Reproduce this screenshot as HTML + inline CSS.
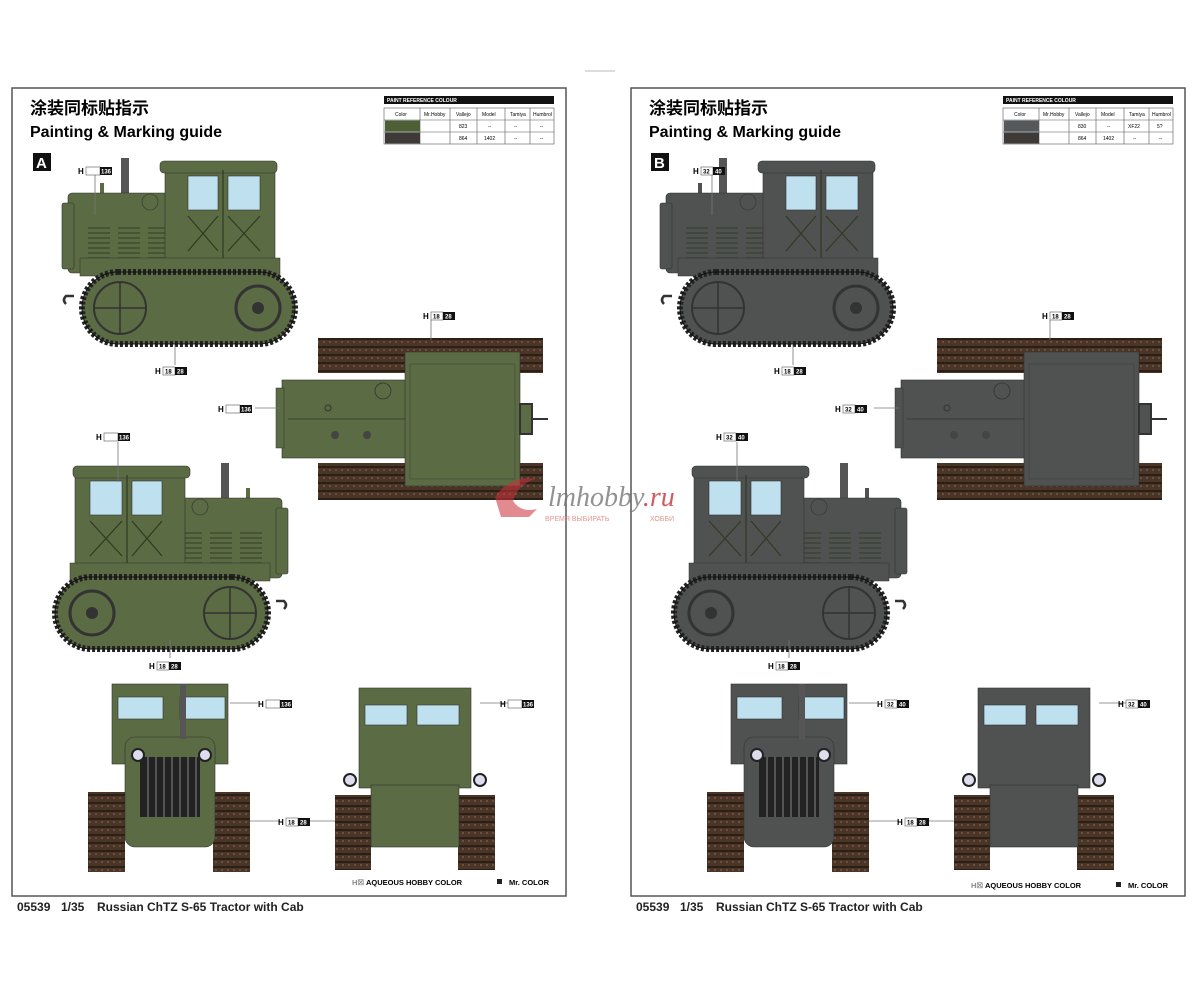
<!DOCTYPE html>
<html><head><meta charset="utf-8"><style>
html,body{margin:0;padding:0;background:#fff;}
svg{display:block;font-family:"Liberation Sans","Noto Sans CJK SC",sans-serif;}
</style></head><body>
<svg width="1200" height="982" viewBox="0 0 1200 982" xmlns="http://www.w3.org/2000/svg">
<defs>
<pattern id="trk" width="6" height="8" patternUnits="userSpaceOnUse"><rect width="6" height="8" fill="#4a3526"/><rect x="0" y="0" width="6" height="2" fill="#2b2018"/><rect x="1" y="3" width="2" height="2" fill="#6b5040"/></pattern>
<g id="side">
  <rect x="61" y="0" width="8" height="40" fill="#555"/>
  <rect x="40" y="25" width="4" height="12" fill="currentColor"/>
  <rect x="8" y="35" width="114" height="80" rx="4" fill="currentColor" stroke="#333" stroke-width="0.6"/>
  <rect x="2" y="45" width="12" height="66" rx="2" fill="currentColor" stroke="#333" stroke-width="0.6"/>
  <circle cx="90" cy="44" r="8" fill="currentColor" stroke="#333" stroke-width="0.6"/>
  <g stroke="#2f3a22" stroke-width="1.2" opacity="0.7">
    <path d="M28 70h22M28 75h22M28 80h22M28 85h22M28 90h22M28 95h22M28 100h22M58 70h22M58 75h22M58 80h22M58 85h22M58 90h22M58 95h22M58 100h22M88 70h22M88 75h22M88 80h22M88 85h22M88 90h22M88 95h22M88 100h22"/>
  </g>
  <rect x="105" y="10" width="110" height="106" fill="currentColor" stroke="#333" stroke-width="0.6"/>
  <rect x="100" y="3" width="117" height="12" rx="4" fill="currentColor" stroke="#333" stroke-width="0.6"/>
  <rect x="128" y="18" width="30" height="34" fill="#bfe0ee" stroke="#333" stroke-width="0.6"/>
  <rect x="168" y="18" width="32" height="34" fill="#bfe0ee" stroke="#333" stroke-width="0.6"/>
  <path d="M128 58l30 35M158 58l-30 35M168 58l32 35M200 58l-32 35M163 12v88" stroke="#2f3a22" stroke-width="1.2" fill="none"/>
  <rect x="20" y="100" width="200" height="18" fill="currentColor" stroke="#333" stroke-width="0.5"/>
  <rect x="22" y="114" width="213" height="72" rx="36" fill="currentColor" stroke="#222" stroke-width="6" stroke-dasharray="3 2"/>
  <rect x="22" y="114" width="213" height="72" rx="36" fill="none" stroke="#111" stroke-width="1"/>
  <circle cx="60" cy="150" r="26" fill="none" stroke="#333" stroke-width="2"/>
  <circle cx="198" cy="150" r="22" fill="none" stroke="#333" stroke-width="3"/>
  <circle cx="198" cy="150" r="6" fill="#333"/>
  <path d="M60 124v52M34 150h52" stroke="#333" stroke-width="1.5"/>
  <path d="M14 138h-8q-4 4 0 8" stroke="#333" stroke-width="2.5" fill="none"/>
</g>
<g id="top">
  <rect x="38" y="0" width="225" height="35" fill="url(#trk)"/>
  <rect x="38" y="125" width="225" height="37" fill="url(#trk)"/>
  <rect x="2" y="42" width="125" height="78" fill="currentColor" stroke="#333" stroke-width="0.6"/>
  <rect x="-4" y="50" width="8" height="60" fill="currentColor" stroke="#333" stroke-width="0.5"/>
  <path d="M8 81h118" stroke="#333" stroke-width="0.8"/>
  <circle cx="103" cy="53" r="8" fill="currentColor" stroke="#333" stroke-width="0.8"/>
  <circle cx="48" cy="70" r="3" fill="none" stroke="#333"/><circle cx="55" cy="97" r="4" fill="#444"/><circle cx="87" cy="97" r="4" fill="#444"/>
  <rect x="125" y="14" width="115" height="134" fill="currentColor" stroke="#333" stroke-width="0.6"/>
  <rect x="130" y="26" width="105" height="115" fill="currentColor" stroke="#333" stroke-width="0.4" opacity="0.9"/>
  <path d="M240 66h12v30h-12zM252 81h16" stroke="#333" stroke-width="2" fill="currentColor"/>
</g>
<g id="front">
  <rect x="24" y="2" width="116" height="80" fill="currentColor" stroke="#333" stroke-width="0.6"/>
  <rect x="30" y="15" width="45" height="22" fill="#bfe0ee" stroke="#333" stroke-width="0.6"/>
  <rect x="92" y="15" width="45" height="22" fill="#bfe0ee" stroke="#333" stroke-width="0.6"/>
  <rect x="0" y="110" width="37" height="80" fill="url(#trk)"/>
  <rect x="125" y="110" width="37" height="80" fill="url(#trk)"/>
  <rect x="37" y="55" width="90" height="110" rx="10" fill="currentColor" stroke="#333" stroke-width="0.6"/>
  <rect x="52" y="75" width="60" height="60" fill="#222"/>
  <path d="M60 75v60M68 75v60M76 75v60M84 75v60M92 75v60M100 75v60M108 75v60" stroke="#555" stroke-width="2"/>
  <rect x="92" y="2" width="6" height="55" fill="#555"/>
  <circle cx="50" cy="73" r="6" fill="#dde" stroke="#222" stroke-width="2"/>
  <circle cx="117" cy="73" r="6" fill="#dde" stroke="#222" stroke-width="2"/>
</g>
<g id="rear">
  <rect x="24" y="3" width="112" height="100" fill="currentColor" stroke="#333" stroke-width="0.6"/>
  <rect x="30" y="20" width="42" height="20" fill="#bfe0ee" stroke="#333" stroke-width="0.6"/>
  <rect x="82" y="20" width="42" height="20" fill="#bfe0ee" stroke="#333" stroke-width="0.6"/>
  <rect x="0" y="110" width="36" height="75" fill="url(#trk)"/>
  <rect x="123" y="110" width="37" height="75" fill="url(#trk)"/>
  <rect x="36" y="100" width="88" height="62" fill="currentColor" stroke="#333" stroke-width="0.6"/>
  <circle cx="15" cy="95" r="6" fill="#dde" stroke="#222" stroke-width="2"/>
  <circle cx="145" cy="95" r="6" fill="#dde" stroke="#222" stroke-width="2"/>
</g>
</defs>

<rect x="12" y="88" width="554" height="808" fill="none" stroke="#555" stroke-width="1.5"/>
<rect x="631" y="88" width="554" height="808" fill="none" stroke="#555" stroke-width="1.5"/>

<g font-weight="bold">
<text x="30" y="114" font-size="17" font-family="'Noto Sans CJK SC',sans-serif">涂装同标贴指示</text>
<text x="30" y="137" font-size="16">Painting &amp; Marking guide</text>
<rect x="33" y="153" width="18" height="18" fill="#111"/><text x="36" y="168" font-size="15" fill="#fff">A</text>
<text x="649" y="114" font-size="17" font-family="'Noto Sans CJK SC',sans-serif">涂装同标贴指示</text>
<text x="649" y="137" font-size="16">Painting &amp; Marking guide</text>
<rect x="651" y="153" width="18" height="18" fill="#111"/><text x="654" y="168" font-size="15" fill="#fff">B</text>
</g>

<g font-size="5">
<rect x="384" y="96" width="170" height="8" fill="#111"/><text x="387" y="102" fill="#fff" font-weight="bold">PAINT REFERENCE COLOUR</text>
<rect x="384" y="108" width="170" height="36" fill="none" stroke="#555" stroke-width="0.6"/>
<path d="M384 120h170M384 132h170M420 108v36M450 108v36M477 108v36M505 108v36M530 108v36" stroke="#555" stroke-width="0.6"/>
<rect x="385" y="120.5" width="35" height="11" fill="#4d6035"/><rect x="385" y="132.5" width="35" height="11" fill="#3d3a38"/>
<text x="395" y="116">Color</text><text x="424" y="116">Mr.Hobby</text><text x="456" y="116">Vallejo</text><text x="482" y="116">Model</text><text x="510" y="116">Tamiya</text><text x="533" y="116">Humbrol</text>
<text x="459" y="128">823</text><text x="459" y="140">864</text><text x="484" y="140">1402</text><text x="488" y="128">--</text><text x="514" y="128">--</text><text x="514" y="140">--</text><text x="540" y="128">--</text><text x="540" y="140">--</text>
<rect x="1003" y="96" width="170" height="8" fill="#111"/><text x="1006" y="102" fill="#fff" font-weight="bold">PAINT REFERENCE COLOUR</text>
<rect x="1003" y="108" width="170" height="36" fill="none" stroke="#555" stroke-width="0.6"/>
<path d="M1003 120h170M1003 132h170M1039 108v36M1069 108v36M1096 108v36M1124 108v36M1149 108v36" stroke="#555" stroke-width="0.6"/>
<rect x="1004" y="120.5" width="35" height="11" fill="#55595c"/><rect x="1004" y="132.5" width="35" height="11" fill="#3d3a38"/>
<text x="1014" y="116">Color</text><text x="1043" y="116">Mr.Hobby</text><text x="1075" y="116">Vallejo</text><text x="1101" y="116">Model</text><text x="1129" y="116">Tamiya</text><text x="1152" y="116">Humbrol</text>
<text x="1078" y="128">830</text><text x="1078" y="140">864</text><text x="1103" y="140">1402</text><text x="1107" y="128">--</text><text x="1128" y="128">XF22</text><text x="1133" y="140">--</text><text x="1157" y="128">5?</text><text x="1159" y="140">--</text>
</g>

<g color="#5b6b43">
<use href="#side" transform="translate(60,158)"/>
<use href="#side" transform="translate(290,463) scale(-1,1)"/>
<use href="#top" transform="translate(280,338)"/>
<use href="#front" transform="translate(88,682)"/>
<use href="#rear" transform="translate(335,685)"/>
</g>
<g color="#4f5251">
<use href="#side" transform="translate(658,158)"/>
<use href="#side" transform="translate(909,463) scale(-1,1)"/>
<use href="#top" transform="translate(899,338)"/>
<use href="#front" transform="translate(707,682)"/>
<use href="#rear" transform="translate(954,685)"/>
</g>

<g stroke="#777" stroke-width="0.8">
<path d="M95 175v40M175 345v20M431 320v20M255 408h25M118 442v40M170 640v18M230 703h28M280 821h-30M300 821h35M480 703h40"/>
<path d="M712 175v40M793 345v20M1050 320v20M874 408h25M737 442v40M789 640v18M849 703h28M899 821h-30M919 821h35M1099 703h40"/>
</g>
<g font-size="8" font-weight="bold">
<g transform="translate(78,166)"><text x="0" y="8">H</text><rect x="8" y="1" width="14" height="8" fill="#fff" stroke="#555" stroke-width="0.6"/><rect x="22" y="1" width="12" height="8" fill="#111"/><text x="23" y="7.5" font-size="6" fill="#fff">136</text></g>
<g transform="translate(155,366)"><text x="0" y="8">H</text><rect x="8" y="1" width="12" height="8" fill="#fff" stroke="#555" stroke-width="0.6"/><text x="10" y="7.5" font-size="6">18</text><rect x="20" y="1" width="12" height="8" fill="#111"/><text x="22" y="7.5" font-size="6" fill="#fff">28</text></g>
<g transform="translate(423,311)"><text x="0" y="8">H</text><rect x="8" y="1" width="12" height="8" fill="#fff" stroke="#555" stroke-width="0.6"/><text x="10" y="7.5" font-size="6">18</text><rect x="20" y="1" width="12" height="8" fill="#111"/><text x="22" y="7.5" font-size="6" fill="#fff">28</text></g>
<g transform="translate(218,404)"><text x="0" y="8">H</text><rect x="8" y="1" width="14" height="8" fill="#fff" stroke="#555" stroke-width="0.6"/><rect x="22" y="1" width="12" height="8" fill="#111"/><text x="23" y="7.5" font-size="6" fill="#fff">136</text></g>
<g transform="translate(96,432)"><text x="0" y="8">H</text><rect x="8" y="1" width="14" height="8" fill="#fff" stroke="#555" stroke-width="0.6"/><rect x="22" y="1" width="12" height="8" fill="#111"/><text x="23" y="7.5" font-size="6" fill="#fff">136</text></g>
<g transform="translate(149,661)"><text x="0" y="8">H</text><rect x="8" y="1" width="12" height="8" fill="#fff" stroke="#555" stroke-width="0.6"/><text x="10" y="7.5" font-size="6">18</text><rect x="20" y="1" width="12" height="8" fill="#111"/><text x="22" y="7.5" font-size="6" fill="#fff">28</text></g>
<g transform="translate(258,699)"><text x="0" y="8">H</text><rect x="8" y="1" width="14" height="8" fill="#fff" stroke="#555" stroke-width="0.6"/><rect x="22" y="1" width="12" height="8" fill="#111"/><text x="23" y="7.5" font-size="6" fill="#fff">136</text></g>
<g transform="translate(278,817)"><text x="0" y="8">H</text><rect x="8" y="1" width="12" height="8" fill="#fff" stroke="#555" stroke-width="0.6"/><text x="10" y="7.5" font-size="6">18</text><rect x="20" y="1" width="12" height="8" fill="#111"/><text x="22" y="7.5" font-size="6" fill="#fff">28</text></g>
<g transform="translate(500,699)"><text x="0" y="8">H</text><rect x="8" y="1" width="14" height="8" fill="#fff" stroke="#555" stroke-width="0.6"/><rect x="22" y="1" width="12" height="8" fill="#111"/><text x="23" y="7.5" font-size="6" fill="#fff">136</text></g>

<g transform="translate(693,166)"><text x="0" y="8">H</text><rect x="8" y="1" width="12" height="8" fill="#fff" stroke="#555" stroke-width="0.6"/><text x="10" y="7.5" font-size="6">32</text><rect x="20" y="1" width="12" height="8" fill="#111"/><text x="22" y="7.5" font-size="6" fill="#fff">40</text></g>
<g transform="translate(774,366)"><text x="0" y="8">H</text><rect x="8" y="1" width="12" height="8" fill="#fff" stroke="#555" stroke-width="0.6"/><text x="10" y="7.5" font-size="6">18</text><rect x="20" y="1" width="12" height="8" fill="#111"/><text x="22" y="7.5" font-size="6" fill="#fff">28</text></g>
<g transform="translate(1042,311)"><text x="0" y="8">H</text><rect x="8" y="1" width="12" height="8" fill="#fff" stroke="#555" stroke-width="0.6"/><text x="10" y="7.5" font-size="6">18</text><rect x="20" y="1" width="12" height="8" fill="#111"/><text x="22" y="7.5" font-size="6" fill="#fff">28</text></g>
<g transform="translate(835,404)"><text x="0" y="8">H</text><rect x="8" y="1" width="12" height="8" fill="#fff" stroke="#555" stroke-width="0.6"/><text x="10" y="7.5" font-size="6">32</text><rect x="20" y="1" width="12" height="8" fill="#111"/><text x="22" y="7.5" font-size="6" fill="#fff">40</text></g>
<g transform="translate(716,432)"><text x="0" y="8">H</text><rect x="8" y="1" width="12" height="8" fill="#fff" stroke="#555" stroke-width="0.6"/><text x="10" y="7.5" font-size="6">32</text><rect x="20" y="1" width="12" height="8" fill="#111"/><text x="22" y="7.5" font-size="6" fill="#fff">40</text></g>
<g transform="translate(768,661)"><text x="0" y="8">H</text><rect x="8" y="1" width="12" height="8" fill="#fff" stroke="#555" stroke-width="0.6"/><text x="10" y="7.5" font-size="6">18</text><rect x="20" y="1" width="12" height="8" fill="#111"/><text x="22" y="7.5" font-size="6" fill="#fff">28</text></g>
<g transform="translate(877,699)"><text x="0" y="8">H</text><rect x="8" y="1" width="12" height="8" fill="#fff" stroke="#555" stroke-width="0.6"/><text x="10" y="7.5" font-size="6">32</text><rect x="20" y="1" width="12" height="8" fill="#111"/><text x="22" y="7.5" font-size="6" fill="#fff">40</text></g>
<g transform="translate(897,817)"><text x="0" y="8">H</text><rect x="8" y="1" width="12" height="8" fill="#fff" stroke="#555" stroke-width="0.6"/><text x="10" y="7.5" font-size="6">18</text><rect x="20" y="1" width="12" height="8" fill="#111"/><text x="22" y="7.5" font-size="6" fill="#fff">28</text></g>
<g transform="translate(1118,699)"><text x="0" y="8">H</text><rect x="8" y="1" width="12" height="8" fill="#fff" stroke="#555" stroke-width="0.6"/><text x="10" y="7.5" font-size="6">32</text><rect x="20" y="1" width="12" height="8" fill="#111"/><text x="22" y="7.5" font-size="6" fill="#fff">40</text></g>
</g>

<g font-size="7.5" font-weight="bold">
<text x="352" y="885"><tspan fill="#888">H☒</tspan> AQUEOUS HOBBY COLOR</text>
<rect x="497" y="879" width="5" height="5" fill="#222"/><text x="509" y="885">Mr. COLOR</text>
<text x="971" y="888"><tspan fill="#888">H☒</tspan> AQUEOUS HOBBY COLOR</text>
<rect x="1116" y="882" width="5" height="5" fill="#222"/><text x="1128" y="888">Mr. COLOR</text>
</g>
<g font-size="12" font-weight="bold" fill="#222">
<text x="17" y="911">05539</text><text x="61" y="911">1/35</text><text x="97" y="911">Russian ChTZ S-65 Tractor with Cab</text>
<text x="636" y="911">05539</text><text x="680" y="911">1/35</text><text x="716" y="911">Russian ChTZ S-65 Tractor with Cab</text>
</g>
<rect x="585" y="70" width="30" height="2" fill="#ddd"/>

<g opacity="0.8">
<path d="M495 497q15-22 40-18q-18 6-22 22q8 12 24 8l-8 8h-28z" fill="#c9303a" opacity="0.7"/>
<text x="548" y="506" font-size="28" font-style="italic" font-family="'Liberation Serif',serif" fill="#777">lmhobby<tspan fill="#c9303a">.ru</tspan></text>
<text x="545" y="521" font-size="7" fill="#d77">ВРЕМЯ ВЫБИРАТЬ</text><text x="650" y="521" font-size="7" fill="#d77">ХОББИ</text>
</g>
</svg>
</body></html>
